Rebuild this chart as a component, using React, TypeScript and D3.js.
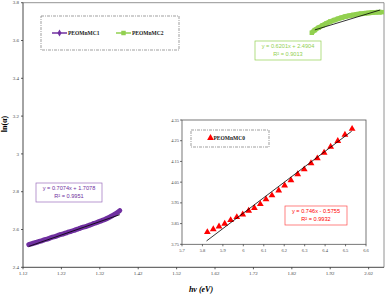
import React from 'react';
import * as d3 from 'd3';

// PEOMnMC1 (purple band)
const mc1X = [1.135, 1.145, 1.155, 1.165, 1.175, 1.185, 1.195, 1.205, 1.215, 1.225, 1.235, 1.245, 1.255, 1.265, 1.275, 1.285, 1.295, 1.305, 1.315, 1.325, 1.335, 1.345, 1.355, 1.365, 1.372];
const mc1Y = [2.520, 2.526, 2.532, 2.538, 2.545, 2.551, 2.558, 2.564, 2.571, 2.577, 2.584, 2.590, 2.597, 2.604, 2.611, 2.617, 2.624, 2.632, 2.639, 2.647, 2.655, 2.665, 2.676, 2.689, 2.700];

// PEOMnMC2 (green band)
const mc2X = [1.872, 1.88, 1.89, 1.90, 1.91, 1.92, 1.93, 1.94, 1.95, 1.96, 1.97, 1.98, 1.99, 2.00, 2.01, 2.02, 2.03, 2.04, 2.054];
const mc2Y = [3.641, 3.655, 3.668, 3.680, 3.690, 3.700, 3.708, 3.715, 3.721, 3.727, 3.731, 3.735, 3.739, 3.742, 3.744, 3.746, 3.748, 3.749, 3.750];

// PEOMnMC0 (inset, red triangles)
const mc0X = [5.824, 5.853, 5.881, 5.909, 5.938, 5.968, 5.997, 6.026, 6.054, 6.083, 6.111, 6.140, 6.173, 6.202, 6.233, 6.266, 6.298, 6.331, 6.362, 6.395, 6.427, 6.462, 6.497, 6.532];
const mc0Y = [3.809, 3.823, 3.836, 3.849, 3.867, 3.881, 3.894, 3.912, 3.925, 3.944, 3.967, 3.986, 4.010, 4.034, 4.059, 4.088, 4.112, 4.141, 4.165, 4.192, 4.221, 4.249, 4.279, 4.307];

// trendlines [slope, intercept]
const fit1 = [0.7074, 1.7078];
const fit2 = [0.6201, 2.4904];
const fit0 = [0.746, -0.5755];

const xTicks = [1.12, 1.22, 1.32, 1.42, 1.52, 1.62, 1.72, 1.82, 1.92, 2.02];
const yTicks = [2.4, 2.6, 2.8, 3, 3.2, 3.4, 3.6, 3.8];
const insetXTicks = [5.7, 5.8, 5.9, 6, 6.1, 6.2, 6.3, 6.4, 6.5, 6.6];
const insetYTicks = [3.75, 3.85, 3.95, 4.05, 4.15, 4.25, 4.35];

const PURPLE = '#7030a0';
const GREEN = '#92d050';
const RED = '#ff0000';
const serif = '"Liberation Serif", "Times New Roman", serif';
const sans = '"Liberation Sans", Arial, sans-serif';

const App = () => {
  const x = d3.scaleLinear().domain([1.12, 2.06]).range([23, 384]);
  const y = d3.scaleLinear().domain([2.4, 3.8]).range([267.3, 2.7]);
  const ix = d3.scaleLinear().domain([5.7, 6.6]).range([182, 366]);
  const iy = d3.scaleLinear().domain([3.75, 4.35]).range([244.3, 120]);

  const mainLine = d3.line<[number, number]>().x(d => x(d[0])).y(d => y(d[1])).curve(d3.curveMonotoneX);
  const pts1 = mc1X.map((v, i) => [v, mc1Y[i]] as [number, number]);
  const pts2 = mc2X.map((v, i) => [v, mc2Y[i]] as [number, number]);
  const tri = d3.symbol().type(d3.symbolTriangle).size(20)() as string;
  const sq = d3.symbol().type(d3.symbolSquare).size(20)() as string;
  const dia = d3.symbol().type(d3.symbolDiamond).size(14)() as string;
  const smallDia = d3.symbol().type(d3.symbolDiamond).size(8)() as string;

  const trend = (f: number[], x0: number, x1: number, sx: any, sy: any) => (
    <line x1={sx(x0)} y1={sy(f[0] * x0 + f[1])} x2={sx(x1)} y2={sy(f[0] * x1 + f[1])} stroke="#000" strokeWidth={0.8} />
  );

  return (
    <div style={{ position: 'fixed', left: 0, top: 0 }}>
      <svg width={387} height={295} style={{ display: 'block', background: '#fff' }}>
        {/* main plot frame */}
        <line x1={x(1.12)} y1={y(3.8)} x2={x(2.06)} y2={y(3.8)} stroke="#777" strokeWidth={0.8} />
        <line x1={x(2.06)} y1={y(3.8)} x2={x(2.06)} y2={y(2.4)} stroke="#777" strokeWidth={0.8} />
        <line x1={x(1.12)} y1={y(3.8)} x2={x(1.12)} y2={y(2.4)} stroke="#333" strokeWidth={0.9} />
        <line x1={x(1.12)} y1={y(2.4)} x2={x(2.06)} y2={y(2.4)} stroke="#333" strokeWidth={0.9} />
        {yTicks.map(t => (
          <g key={'y' + t}>
            <line x1={x(1.12) - 2} x2={x(1.12)} y1={y(t)} y2={y(t)} stroke="#333" strokeWidth={0.8} />
            <text x={x(1.12) - 4} y={y(t)} dy="0.35em" textAnchor="end" fontFamily={serif} fontSize={5} fill="#444">{t}</text>
          </g>
        ))}
        {xTicks.map(t => (
          <g key={'x' + t}>
            <line x1={x(t)} x2={x(t)} y1={y(2.4)} y2={y(2.4) + 2} stroke="#333" strokeWidth={0.8} />
            <text x={x(t)} y={y(2.4) + 8} textAnchor="middle" fontFamily={serif} fontSize={5} fill="#444">{t.toFixed(2)}</text>
          </g>
        ))}
        <text transform="translate(7,124) rotate(-90)" textAnchor="middle" fontFamily={serif} fontSize={8} fontWeight="bold">ln(α)</text>
        <text x={201} y={292} textAnchor="middle" fontFamily={serif} fontSize={8} fontWeight="bold" fontStyle="italic">hν (eV)</text>

        {/* legend */}
        <rect x={41} y={16} width={138} height={34} fill="none" stroke="#777" strokeWidth={0.7} strokeDasharray="3,1,1,1" />
        <line x1={52} x2={67} y1={33} y2={33} stroke={PURPLE} strokeWidth={1.5} />
        <path d={dia} transform="translate(59.5,33)" fill={PURPLE} />
        <text x={68} y={33} dy="0.35em" fontFamily={serif} fontSize={5.5} fontWeight="bold" fill="#222">PEOMnMC1</text>
        <line x1={116} x2={131} y1={33} y2={33} stroke={GREEN} strokeWidth={1.5} />
        <path d={sq} transform="translate(123.5,33)" fill={GREEN} />
        <text x={132} y={33} dy="0.35em" fontFamily={serif} fontSize={5.5} fontWeight="bold" fill="#222">PEOMnMC2</text>

        {/* MC1 */}
        <path d={mainLine(pts1) as string} fill="none" stroke={PURPLE} strokeWidth={5} strokeLinecap="round" />
        {pts1.map((p, i) => <path key={'a' + i} d={smallDia} transform={`translate(${x(p[0])},${y(p[1])})`} fill={PURPLE} />)}
        {trend(fit1, mc1X[0], mc1X[mc1X.length - 1], x, y)}
        <rect x={36} y={183} width={66} height={19} fill="#fff" stroke={PURPLE} strokeWidth={0.7} strokeOpacity={0.7} />
        <text x={69} y={190} textAnchor="middle" fontFamily={sans} fontSize={5.6} fill={PURPLE}>y = 0.7074x + 1.7078</text>
        <text x={69} y={198} textAnchor="middle" fontFamily={sans} fontSize={5.6} fill={PURPLE}>R² = 0.9951</text>

        {/* MC2 */}
        <path d={mainLine(pts2) as string} fill="none" stroke={GREEN} strokeWidth={5} />
        {pts2.map((p, i) => <path key={'b' + i} d={sq} transform={`translate(${x(p[0])},${y(p[1])})`} fill={GREEN} />)}
        {trend(fit2, 1.88, 2.05, x, y)}
        <rect x={255} y={41} width={66} height={19} fill="#fff" stroke={GREEN} strokeWidth={0.7} />
        <text x={288} y={48} textAnchor="middle" fontFamily={sans} fontSize={5.6} fill={GREEN}>y = 0.6201x + 2.4904</text>
        <text x={288} y={56} textAnchor="middle" fontFamily={sans} fontSize={5.6} fill={GREEN}>R² = 0.9013</text>

        {/* inset */}
        <rect x={ix(5.7)} y={iy(4.35)} width={ix(6.6) - ix(5.7)} height={iy(3.75) - iy(4.35)} fill="#fff" stroke="#555" strokeWidth={0.8} />
        {insetYTicks.map(t => (
          <g key={'iy' + t}>
            <line x1={ix(5.7) - 2} x2={ix(5.7)} y1={iy(t)} y2={iy(t)} stroke="#333" strokeWidth={0.7} />
            <text x={ix(5.7) - 3} y={iy(t)} dy="0.35em" textAnchor="end" fontFamily={serif} fontSize={4.5} fill="#444">{t.toFixed(2)}</text>
          </g>
        ))}
        {insetXTicks.map(t => (
          <g key={'ix' + t}>
            <line x1={ix(t)} x2={ix(t)} y1={iy(3.75)} y2={iy(3.75) + 2} stroke="#333" strokeWidth={0.7} />
            <text x={ix(t)} y={iy(3.75) + 7.5} textAnchor="middle" fontFamily={serif} fontSize={4.5} fill="#444">{t}</text>
          </g>
        ))}
        <rect x={191} y={130} width={78} height={17} fill="none" stroke="#777" strokeWidth={0.7} strokeDasharray="3,1,1,1" />
        <path d={tri} transform="translate(210.5,138)" fill={RED} />
        <text x={213.5} y={138.5} dy="0.35em" fontFamily={serif} fontSize={5.5} fontWeight="bold" fill="#222">PEOMnMC0</text>
        {mc0X.map((v, i) => <path key={'c' + i} d={tri} transform={`translate(${ix(v)},${iy(mc0Y[i])})`} fill={RED} />)}
        {trend(fit0, 5.82, 6.53, ix, iy)}
        <rect x={285} y={206} width={62} height={19} fill="#fff" stroke={RED} strokeWidth={0.7} strokeOpacity={0.7} />
        <text x={316} y={213} textAnchor="middle" fontFamily={sans} fontSize={5.6} fill={RED}>y = 0.746x - 0.5755</text>
        <text x={316} y={221} textAnchor="middle" fontFamily={sans} fontSize={5.6} fill={RED}>R² = 0.9932</text>
      </svg>
    </div>
  );
};

export default App;
